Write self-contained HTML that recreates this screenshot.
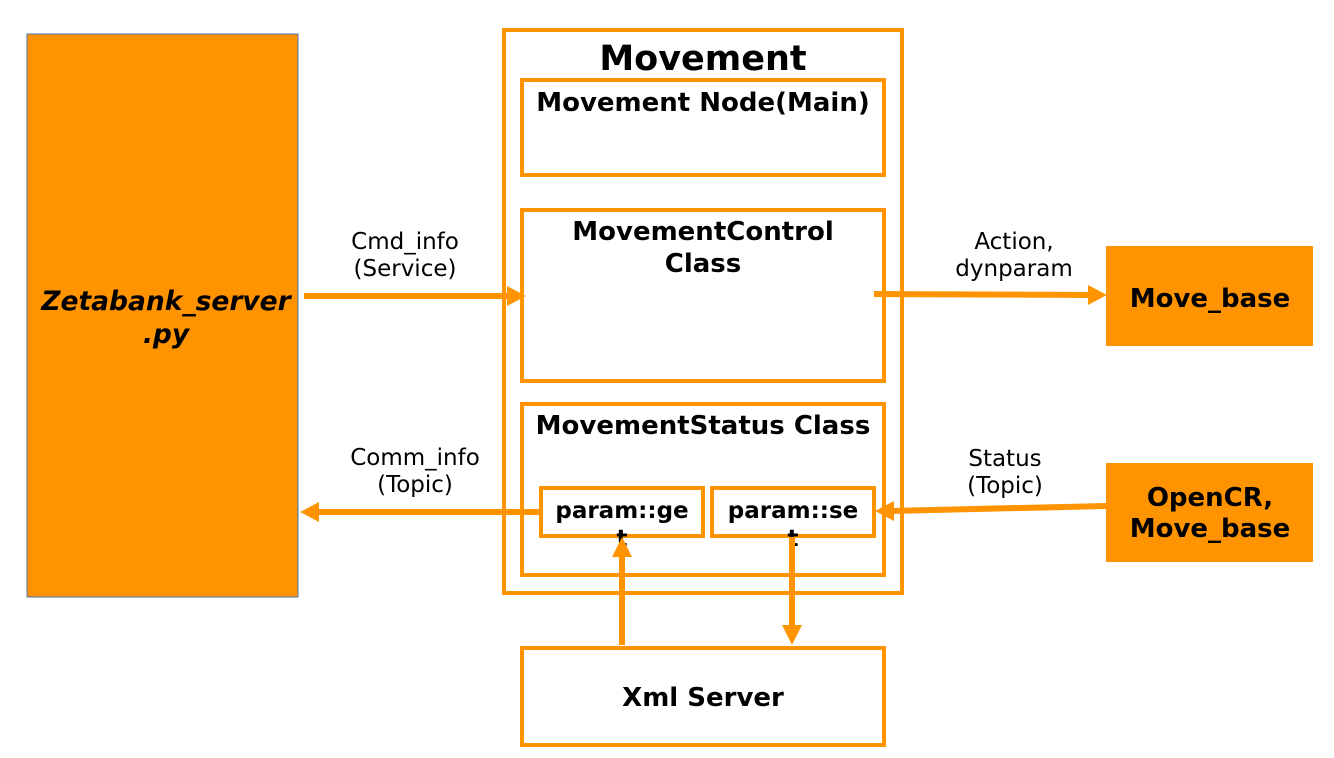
<!DOCTYPE html>
<html><head><meta charset="utf-8"><style>html,body{margin:0;padding:0;background:#fff}svg{display:block}</style></head><body>
<svg width="1334" height="758" viewBox="0 0 1334 758" xmlns="http://www.w3.org/2000/svg" font-family="DejaVu Sans, Liberation Sans, sans-serif">
<rect x="27" y="34" width="271" height="563" fill="#ff9300" stroke="#4a72b8" stroke-width="1"/>
<g font-weight="bold" font-style="italic" font-size="26.5" text-anchor="middle">
<text x="166" y="310">Zetabank_server</text><text x="166" y="343">.py</text></g>
<g fill="none" stroke="#ff9300" stroke-width="4">
<rect x="504" y="30" width="398" height="563"/>
<rect x="522" y="80" width="362" height="95"/>
<rect x="522" y="210" width="362" height="171"/>
<rect x="522" y="404" width="362" height="171"/>
<rect x="541" y="488" width="162" height="48"/>
<rect x="712" y="488" width="162" height="48"/>
<rect x="522" y="648" width="362" height="97"/>
</g>
<rect x="1106" y="246" width="207" height="100" fill="#ff9300"/>
<rect x="1106" y="463" width="207" height="99" fill="#ff9300"/>
<g font-weight="bold" text-anchor="middle">
<text x="703" y="70" font-size="35">Movement</text>
<text x="703" y="111" font-size="26">Movement Node(Main)</text>
<text x="703" y="240" font-size="26">MovementControl</text>
<text x="703" y="272" font-size="26">Class</text>
<text x="703" y="434" font-size="26">MovementStatus Class</text>
<text x="622" y="518" font-size="23">param::ge</text>
<text x="622" y="546" font-size="23">t</text>
<text x="793" y="518" font-size="23">param::se</text>
<text x="793" y="546" font-size="23">t</text>
<text x="703" y="706" font-size="26">Xml Server</text>
<text x="1210" y="307" font-size="26">Move_base</text>
<text x="1210" y="506" font-size="26">OpenCR,</text>
<text x="1210" y="537" font-size="26">Move_base</text>
</g>
<g font-size="23" text-anchor="middle">
<text x="405" y="249">Cmd_info</text><text x="405" y="276">(Service)</text>
<text x="1014" y="249">Action,</text><text x="1014" y="276">dynparam</text>
<text x="415" y="465">Comm_info</text><text x="415" y="492">(Topic)</text>
<text x="1005" y="466">Status</text><text x="1005" y="493">(Topic)</text>
</g>
<g stroke="#ff9300" stroke-width="6" fill="none">
<line x1="304" y1="296" x2="510" y2="296"/>
<line x1="874" y1="294" x2="1092" y2="295"/>
<line x1="541" y1="512" x2="316" y2="512"/>
<line x1="1106" y1="506" x2="890" y2="511"/>
<line x1="622" y1="645" x2="622" y2="555"/>
<line x1="792" y1="537" x2="792" y2="628"/>
</g>
<g fill="#ff9300">
<polygon points="526,296 507,286 507,306"/>
<polygon points="1107,295 1088,285 1088,305"/>
<polygon points="300,512 319,502 319,522"/>
<polygon points="875,511 894,501 894,521"/>
<polygon points="622,537 612,557 632,557"/>
<polygon points="792,645 782,625 802,625"/>
</g>
</svg>
</body></html>
